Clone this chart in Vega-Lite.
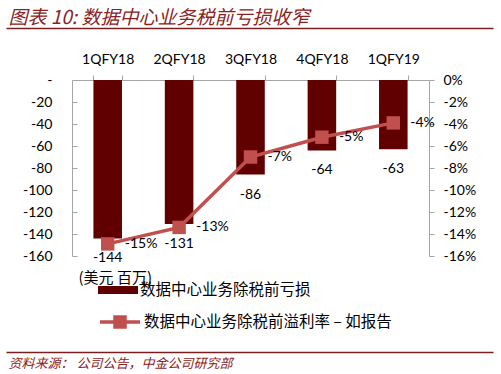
{
  "$schema": "https://vega.github.io/schema/vega-lite/v6.json",
  "autosize": {"type": "none"},
  "width": 357,
  "height": 176,
  "padding": {"left": 72, "top": 80, "right": 72, "bottom": 118},
  "background": "white",
  "config": {
    "view": {"stroke": null},
    "font": "Lato",
    "axis": {"labelFont": "Lato", "labelFontSize": 14, "labelColor": "#000000", "domainColor": "#A6A6A6", "tickColor": "#A6A6A6", "grid": false, "labelOverlap": false}
  },
  "datasets": {
    "q": [
      {"quarter": "1QFY18", "loss": -144, "margin": -14.9},
      {"quarter": "2QFY18", "loss": -131, "margin": -13.4},
      {"quarter": "3QFY18", "loss": -86, "margin": -7.0},
      {"quarter": "4QFY18", "loss": -64, "margin": -5.2},
      {"quarter": "1QFY19", "loss": -63, "margin": -3.9}
    ],
    "frame": [{"t": 0}, {"t": 1}]
  },
  "layer": [
    {
      "data": {"name": "q"},
      "encoding": {
        "x": {"field": "quarter", "type": "nominal", "sort": null,
          "scale": {"paddingInner": 0.6, "paddingOuter": 0.3},
          "axis": {"orient": "top", "title": null, "labelAngle": 0, "tickBand": "extent", "tickSize": 5, "labelPadding": 9}}
      },
      "layer": [
        {
          "encoding": {
            "y": {"field": "loss", "type": "quantitative",
              "scale": {"domain": [-160, 0], "nice": false},
              "axis": {"orient": "left", "values": [-160, -140, -120, -100, -80, -60, -40, -20, 0],
                "labelExpr": "datum.value == 0 ? '-' : '' + datum.value", "labelOverlap": false, "labelSeparation": 0,
                "tickSize": -5, "labelPadding": 25,
                "title": "(美元 百万)", "titleAngle": 0, "titleX": 6, "titleY": 197, "titleAlign": "left", "titleBaseline": "middle",
                "titleFont": "Noto Sans CJK SC", "titleFontSize": 15, "titleFontWeight": "normal", "titleColor": "#000000"}}
          },
          "layer": [
            {
              "mark": {"type": "bar"},
              "encoding": {
                "color": {"datum": "数据中心业务除税前亏损", "type": "nominal",
                  "scale": {"range": ["#600000"]},
                  "legend": {"orient": "none", "legendX": 26, "legendY": 190, "title": null, "padding": 0,
                    "symbolType": "M-1,-0.2H1V0.2H-1Z", "symbolSize": 1600, "symbolStrokeWidth": 0,
                    "labelFont": "Noto Sans CJK SC", "labelFontSize": 15.5, "labelColor": "#000000", "labelOffset": 2, "labelLimit": 400}}
              }
            },
            {
              "mark": {"type": "text", "baseline": "middle", "dy": 20, "fontSize": 14, "font": "Lato", "color": "#000000"},
              "encoding": {
                "text": {"field": "loss", "type": "nominal"}
              }
            }
          ]
        },
        {
          "encoding": {
            "y": {"field": "margin", "type": "quantitative",
              "scale": {"domain": [-16, 0], "nice": false},
              "axis": {"orient": "right", "values": [-16, -14, -12, -10, -8, -6, -4, -2, 0],
                "labelExpr": "datum.value + '%'", "labelOverlap": false, "labelSeparation": 0, "title": null, "tickSize": 5, "labelPadding": 9}}
          },
          "layer": [
            {
              "mark": {"type": "line", "strokeWidth": 3.5,
                "point": {"shape": "square", "size": 180, "filled": true, "opacity": 1}},
              "encoding": {
                "color": {"datum": "数据中心业务除税前溢利率 – 如报告", "type": "nominal",
                  "scale": {"range": ["#C0504D"]},
                  "legend": {"orient": "none", "legendX": 26, "legendY": 220, "title": null, "padding": 0,
                    "symbolType": "M-1,0H1M-0.25,-0.25H0.25V0.25H-0.25Z", "symbolSize": 1600, "symbolStrokeWidth": 3.5,
                    "symbolFillColor": "#C0504D", "symbolStrokeColor": "#C0504D",
                    "labelFont": "Noto Sans CJK SC", "labelFontSize": 15.5, "labelColor": "#000000", "labelOffset": 2, "labelLimit": 400}}
              }
            },
            {
              "mark": {"type": "text", "align": "left", "baseline": "middle", "dx": 17, "fontSize": 14, "font": "Lato", "color": "#000000",
                "text": {"expr": "round(datum.margin) + '%'"}}
            }
          ]
        }
      ],
      "resolve": {"scale": {"y": "independent", "color": "independent"}}
    },
    {
      "data": {"name": "frame"},
      "mark": {"type": "rule", "opacity": 0},
      "encoding": {
        "x": {"field": "t", "type": "quantitative",
          "scale": {"domain": [0, 1], "range": [-66, 421], "nice": false, "zero": false},
          "axis": {"orient": "top", "offset": 52, "domainColor": "#7A1F1F", "domainWidth": 1.5, "ticks": false, "labels": false, "grid": false,
            "title": "图表 10: 数据中心业务税前亏损收窄", "titleX": -64, "titleY": -11, "titleAlign": "left", "titleBaseline": "middle", "titleAngle": 0,
            "titleFont": "Noto Sans CJK SC", "titleFontSize": 19, "titleFontStyle": "italic", "titleFontWeight": "normal", "titleColor": "#8B2323"}}
      }
    },
    {
      "data": {"name": "frame"},
      "mark": {"type": "rule", "opacity": 0},
      "encoding": {
        "x": {"field": "t", "type": "quantitative",
          "scale": {"domain": [0, 1], "range": [-66, 421], "nice": false, "zero": false},
          "axis": {"orient": "bottom", "offset": 96, "domainColor": "#7A1F1F", "domainWidth": 1.5, "ticks": false, "labels": false, "grid": false,
            "title": "资料来源：   公司公告，中金公司研究部", "titleX": -64, "titleY": 11, "titleAlign": "left", "titleBaseline": "middle", "titleAngle": 0,
            "titleFont": "Noto Sans CJK SC", "titleFontSize": 13, "titleFontStyle": "italic", "titleFontWeight": "normal", "titleColor": "#8B2323"}}
      }
    }
  ],
  "resolve": {"scale": {"x": "independent", "y": "independent"}}
}
